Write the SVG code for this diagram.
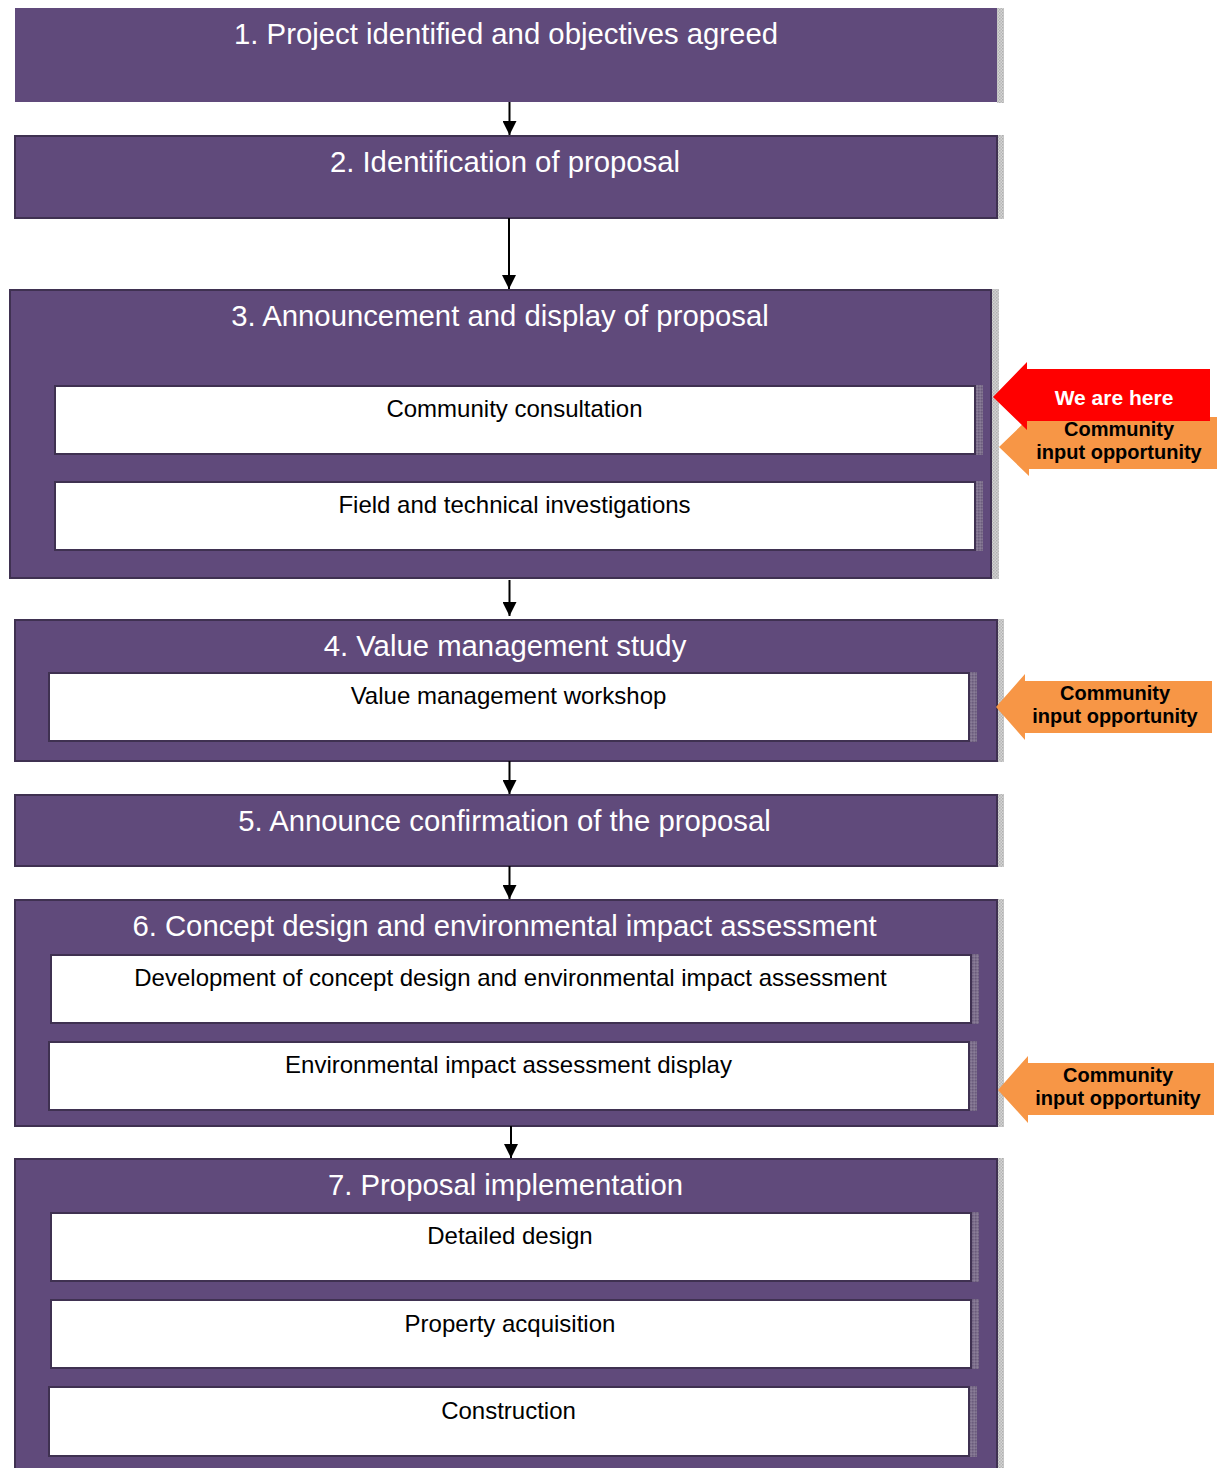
<svg xmlns="http://www.w3.org/2000/svg" width="1218" height="1468" viewBox="0 0 1218 1468">
<defs>
<pattern id="chk" width="3" height="3" patternUnits="userSpaceOnUse">
<rect width="3" height="3" fill="#d4d4d4"/>
<rect width="1.5" height="1.5" fill="#b0b0b0"/>
<rect x="1.5" y="1.5" width="1.5" height="1.5" fill="#b8b8b8"/>
</pattern>
<pattern id="chk2" width="3" height="3" patternUnits="userSpaceOnUse">
<rect width="3" height="3" fill="#7d6f8c"/>
<rect width="1.5" height="1.5" fill="#6a5c7c"/>
<rect x="1.5" y="1.5" width="1.5" height="1.5" fill="#8a7e98"/>
</pattern>
<marker id="ah" viewBox="0 0 10 10" refX="10" refY="5" markerWidth="14" markerHeight="14" markerUnits="userSpaceOnUse" orient="auto">
<path d="M0,0 L10,5 L0,10 Z" fill="#000"/>
</marker>
</defs>
<style>
.box{fill:#604a7b;stroke:#3f3151;stroke-width:2}
.inner{fill:#ffffff;stroke:#3f3151;stroke-width:2}
.sh{fill:url(#chk)}
.ish{fill:url(#chk2)}
.t{font-family:"Liberation Sans",Arial,sans-serif;font-size:29.3px;fill:#ffffff;text-anchor:middle}
.it{font-family:"Liberation Sans",Arial,sans-serif;font-size:24px;fill:#000000;text-anchor:middle}
.ct{font-family:"Liberation Sans",Arial,sans-serif;font-size:20px;font-weight:bold;fill:#000000;text-anchor:middle}
.wt{font-family:"Liberation Sans",Arial,sans-serif;font-size:21px;font-weight:bold;fill:#ffffff;text-anchor:middle}
.con{stroke:#000;stroke-width:2;fill:none;marker-end:url(#ah)}
</style>
<rect width="1218" height="1468" fill="#ffffff"/>

<g id="node1">
<rect class="sh" x="997" y="8" width="7" height="95"/>
<rect x="15" y="8" width="982" height="94" fill="#604a7b"/>
<text class="t" x="506" y="44">1. Project identified and objectives agreed</text>
</g>

<g id="node2">
<rect class="sh" x="997" y="135" width="7" height="84"/>
<rect class="box" x="15" y="136" width="982" height="82"/>
<text class="t" x="505" y="172">2. Identification of proposal</text>
</g>

<g id="node3">
<rect class="sh" x="991" y="289" width="8" height="290"/>
<rect class="box" x="10" y="290" width="981" height="288"/>
<text class="t" x="500" y="326">3. Announcement and display of proposal</text>
<rect class="ish" x="976" y="385" width="7" height="70"/>
<rect class="inner" x="55" y="386" width="920" height="68"/>
<text class="it" x="514.5" y="417">Community consultation</text>
<rect class="ish" x="976" y="481" width="7" height="70"/>
<rect class="inner" x="55" y="482" width="920" height="68"/>
<text class="it" x="514.5" y="513">Field and technical investigations</text>
</g>

<g id="node4">
<rect class="sh" x="997" y="619" width="7" height="143"/>
<rect class="box" x="15" y="620" width="982" height="141"/>
<text class="t" x="505" y="656">4. Value management study</text>
<rect class="ish" x="970" y="672" width="7" height="70"/>
<rect class="inner" x="49" y="673" width="920" height="68"/>
<text class="it" x="508.5" y="704">Value management workshop</text>
</g>

<g id="node5">
<rect class="sh" x="997" y="794" width="7" height="73"/>
<rect class="box" x="15" y="795" width="982" height="71"/>
<text class="t" x="504.5" y="831">5. Announce confirmation of the proposal</text>
</g>

<g id="node6">
<rect class="sh" x="997" y="899" width="7" height="228"/>
<rect class="box" x="15" y="900" width="982" height="226"/>
<text class="t" x="504.5" y="936">6. Concept design and environmental impact assessment</text>
<rect class="ish" x="972" y="954" width="7" height="70"/>
<rect class="inner" x="51" y="955" width="920" height="68"/>
<text class="it" x="510.5" y="986">Development of concept design and environmental impact assessment</text>
<rect class="ish" x="970" y="1041" width="7" height="70"/>
<rect class="inner" x="49" y="1042" width="920" height="68"/>
<text class="it" x="508.5" y="1073">Environmental impact assessment display</text>
</g>

<g id="node7">
<rect class="sh" x="997" y="1158" width="7" height="320"/>
<rect class="box" x="15" y="1159" width="982" height="320"/>
<text class="t" x="505.5" y="1195">7. Proposal implementation</text>
<rect class="ish" x="972" y="1212" width="7" height="70"/>
<rect class="inner" x="51" y="1213" width="920" height="68"/>
<text class="it" x="510" y="1244">Detailed design</text>
<rect class="ish" x="972" y="1299" width="7" height="70"/>
<rect class="inner" x="51" y="1300" width="920" height="68"/>
<text class="it" x="510" y="1332">Property acquisition</text>
<rect class="ish" x="970" y="1386" width="7" height="71"/>
<rect class="inner" x="49" y="1387" width="920" height="69"/>
<text class="it" x="508.5" y="1419">Construction</text>
</g>

<g id="connectors">
<line class="con" x1="509.5" y1="102" x2="509.5" y2="135"/>
<line class="con" x1="509" y1="218" x2="509" y2="289"/>
<line class="con" x1="509.5" y1="580" x2="509.5" y2="616"/>
<line class="con" x1="509.5" y1="761" x2="509.5" y2="794"/>
<line class="con" x1="509.5" y1="866" x2="509.5" y2="899"/>
<line class="con" x1="511" y1="1126" x2="511" y2="1158"/>
</g>

<g id="callout-orange-1">
<path d="M999,447 L1029,418 L1029,417 L1217,417 L1217,469 L1029,469 L1029,476 Z" fill="#f79646"/>
<text class="ct" x="1119" y="436">Community</text>
<text class="ct" x="1119" y="459">input opportunity</text>
</g>

<g id="callout-red">
<path d="M993,397 L1027,362 L1027,369 L1210,369 L1210,421 L1027,421 L1027,430 Z" fill="#ff0000"/>
<text class="wt" x="1114" y="405">We are here</text>
</g>

<g id="callout-orange-2">
<path d="M996,707 L1025,674 L1025,681 L1212,681 L1212,733 L1025,733 L1025,740 Z" fill="#f79646"/>
<text class="ct" x="1115" y="700">Community</text>
<text class="ct" x="1115" y="723">input opportunity</text>
</g>

<g id="callout-orange-3">
<path d="M998,1090 L1028,1056 L1028,1063 L1214,1063 L1214,1115 L1028,1115 L1028,1123 Z" fill="#f79646"/>
<text class="ct" x="1118" y="1082">Community</text>
<text class="ct" x="1118" y="1105">input opportunity</text>
</g>
</svg>
